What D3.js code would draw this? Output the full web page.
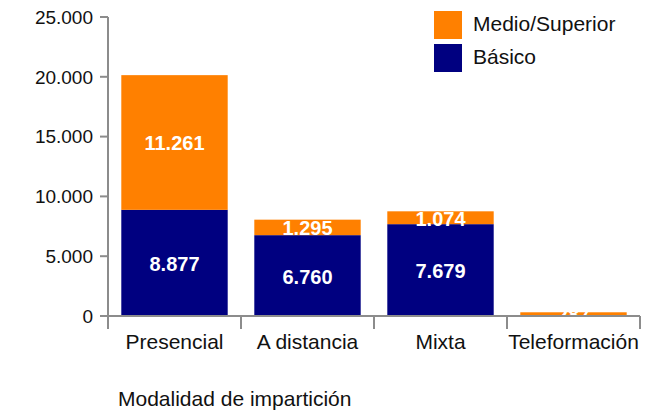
<!DOCTYPE html>
<html>
<head>
<meta charset="utf-8">
<script src="https://cdn.jsdelivr.net/npm/d3@7"></script>
<style>
    body { margin: 0; background: #fff; }
    text { font-family: "Liberation Sans", Arial, sans-serif; }
</style>
</head>
<body>
<div id="chart"></div>
<script>
var categories = ["Presencial", "A distancia", "Mixta", "Teleformación"];
var basico = [8877, 6760, 7679, 24];
var medioSuperior = [11261, 1295, 1074, 287];
var seriesNames = ["Básico", "Medio/Superior"];
var yTicks = [0, 5000, 10000, 15000, 20000, 25000];
var xTitle = "Modalidad de impartición";

var width = 656, height = 410;
var colors = { "Básico": "#000080", "Medio/Superior": "#ff8000" };
var axisColor = "#8c8c8c";

var locale = d3.formatLocale({ decimal: ",", thousands: ".", grouping: [3], currency: ["", "€"] });
var fmt = locale.format(",d");

var svg = d3.select("#chart").append("svg")
    .attr("width", width)
    .attr("height", height);

var x = d3.scaleBand().domain(categories).range([108, 640]).paddingInner(0.2).paddingOuter(0.1);
var y = d3.scaleLinear().domain([0, 25000]).range([316, 17]);

var rows = categories.map(function (c, i) {
    return { cat: c, "Básico": basico[i], "Medio/Superior": medioSuperior[i] };
});
var stacked = d3.stack().keys(seriesNames)(rows);

// bars
var layer = svg.selectAll(".layer")
    .data(stacked)
    .enter().append("g")
    .attr("fill", function (d) { return colors[d.key]; });

layer.selectAll("rect")
    .data(function (d) { return d; })
    .enter().append("rect")
    .attr("x", function (d) { return x(d.data.cat); })
    .attr("width", x.bandwidth())
    .attr("y", function (d) { return y(d[1]); })
    .attr("height", function (d) { return y(d[0]) - y(d[1]); });

// value labels (tiny segments get no label)
layer.selectAll("text")
    .data(function (d) { return d.filter(function (s) { return y(s[0]) - y(s[1]) > 1; }); })
    .enter().append("text")
    .attr("x", function (d) { return x(d.data.cat) + x.bandwidth() / 2; })
    .attr("y", function (d) { return (y(d[0]) + y(d[1])) / 2; })
    .attr("dy", "0.4em")
    .attr("text-anchor", "middle")
    .attr("fill", "#fff")
    .attr("font-weight", "bold")
    .attr("font-size", 20)
    .text(function (d) { return fmt(d[1] - d[0]); });

// y axis
var yAxis = svg.append("g");
yAxis.append("line")
    .attr("x1", 108).attr("x2", 108)
    .attr("y1", y(25000)).attr("y2", 329)
    .attr("stroke", axisColor).attr("stroke-width", 2);
yAxis.selectAll(".tick")
    .data(yTicks)
    .enter().append("line")
    .attr("x1", 100).attr("x2", 108)
    .attr("y1", function (d) { return y(d); })
    .attr("y2", function (d) { return y(d); })
    .attr("stroke", axisColor).attr("stroke-width", 2);
yAxis.selectAll("text")
    .data(yTicks)
    .enter().append("text")
    .attr("x", 93)
    .attr("y", function (d) { return y(d); })
    .attr("dy", "0.36em")
    .attr("text-anchor", "end")
    .attr("font-size", 19)
    .attr("fill", "#111")
    .text(function (d) { return fmt(d); });

// x axis
var xAxis = svg.append("g");
xAxis.append("line")
    .attr("x1", 100).attr("x2", 640)
    .attr("y1", y(0)).attr("y2", y(0))
    .attr("stroke", axisColor).attr("stroke-width", 2);
var bounds = categories.map(function (c) { return x(c) - x.step() * x.paddingInner() / 2; });
bounds.push(640);
xAxis.selectAll(".tick")
    .data(bounds.slice(1))
    .enter().append("line")
    .attr("x1", function (d) { return d; })
    .attr("x2", function (d) { return d; })
    .attr("y1", y(0)).attr("y2", 329)
    .attr("stroke", axisColor).attr("stroke-width", 2);
xAxis.selectAll("text")
    .data(categories)
    .enter().append("text")
    .attr("x", function (d) { return x(d) + x.bandwidth() / 2; })
    .attr("y", 349)
    .attr("text-anchor", "middle")
    .attr("font-size", 21)
    .attr("fill", "#111")
    .text(function (d) { return d; });

svg.append("text")
    .attr("x", 118)
    .attr("y", 406)
    .attr("font-size", 21)
    .attr("fill", "#111")
    .text(xTitle);

// legend
var legend = svg.selectAll(".legend")
    .data(seriesNames.slice().reverse())
    .enter().append("g")
    .attr("transform", function (d, i) { return "translate(434," + (11 + i * 33) + ")"; });
legend.append("rect")
    .attr("width", 28).attr("height", 28)
    .attr("fill", function (d) { return colors[d]; });
legend.append("text")
    .attr("x", 39).attr("y", 12)
    .attr("dy", "0.36em")
    .attr("font-size", 21)
    .attr("fill", "#111")
    .text(function (d) { return d; });
</script>
</body>
</html>
